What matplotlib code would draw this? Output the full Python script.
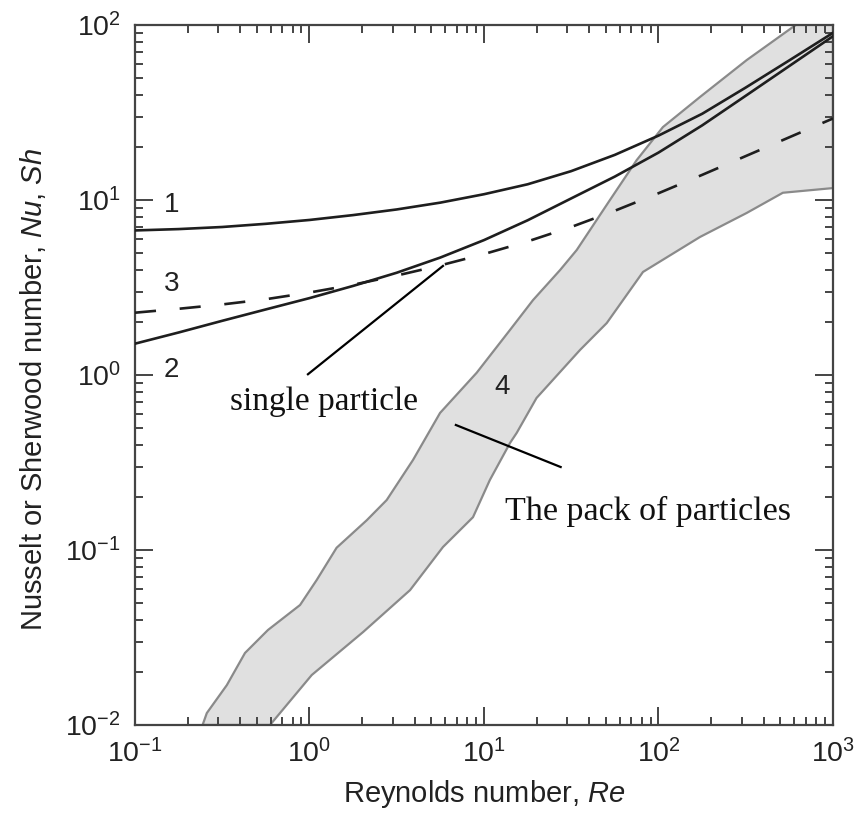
import numpy as np
import matplotlib
matplotlib.use("Agg")
import matplotlib.pyplot as plt

plt.rcParams['font.family'] = ['Liberation Sans', 'DejaVu Sans']
plt.rcParams['mathtext.fontset'] = 'custom'
plt.rcParams['mathtext.rm'] = 'Liberation Sans'
plt.rcParams['mathtext.it'] = 'Liberation Sans:italic'

# Reynolds number grid (quarter decades)
re = [0.1, 0.178, 0.316, 0.562, 1, 1.78, 3.16, 5.62, 10, 17.8, 31.6, 56.2,
      100, 178, 316, 562, 1000]

# curve 1, 2 (solid) and 3 (dashed)
nu_1 = [6.70, 6.82, 7.01, 7.31, 7.69, 8.20, 8.83, 9.66, 10.79, 12.30, 14.62,
        18.11, 23.33, 31.1, 43.9, 62.8, 90.2]
nu_2 = [1.51, 1.75, 2.04, 2.37, 2.75, 3.23, 3.84, 4.69, 5.90, 7.66, 10.21,
        13.61, 18.66, 26.7, 39.4, 58.3, 86.3]
nu_3 = [2.27, 2.39, 2.53, 2.71, 2.96, 3.28, 3.70, 4.23, 4.91, 5.80, 7.01,
        8.68, 10.93, 13.92, 17.82, 22.83, 29.24]

# band 4 (pack of particles): upper/left edge and lower/right edge
band_up_re = [0.244, 0.258, 0.336, 0.427, 0.578, 0.883, 1.10, 1.43, 2.13, 2.77,
              3.92, 5.6, 9.08, 14.1, 19.1, 27.3, 34.0, 52.7, 75, 106, 173, 320,
              590, 1000]
band_up_nu = [0.01, 0.0117, 0.0169, 0.0258, 0.0349, 0.0485, 0.0674, 0.103, 0.148,
              0.193, 0.327, 0.607, 1.03, 1.81, 2.68, 3.98, 5.18, 10.0, 16.9, 26.1,
              38.8, 63, 97.5, 140]
band_lo_re = [0.594, 1.03, 2.03, 3.77, 5.82, 8.65, 10.8, 14.1, 15.4, 20.0, 35.5,
              50.5, 81.5, 173, 320, 516, 1000]
band_lo_nu = [0.01, 0.0193, 0.034, 0.059, 0.104, 0.154, 0.251, 0.409, 0.467, 0.739,
              1.39, 1.98, 3.88, 6.15, 8.43, 11.0, 11.7]

fig = plt.figure(figsize=(8.57, 8.17), dpi=100)
ax = fig.add_axes([0.1575, 0.1126, 0.8145, 0.8568])

poly_x = band_up_re + band_lo_re[::-1]
poly_y = band_up_nu + band_lo_nu[::-1]
ax.fill(poly_x, poly_y, facecolor='#e0e0e0', edgecolor='#8a8a8a', linewidth=1.6, zorder=1)

ax.plot(re, nu_1, color='#1e1e1e', lw=1.9, zorder=3)
ax.plot(re, nu_2, color='#1e1e1e', lw=1.9, zorder=3)
ax.plot(re, nu_3, color='#1e1e1e', lw=1.9, dashes=(8, 9), zorder=3)

ax.set_xscale('log')
ax.set_yscale('log')
ax.set_xlim(0.1, 1000)
ax.set_ylim(0.01, 100)

# curve numbers
ax.text(0.162, 9.36, '1', fontsize=20, ha='center', va='center', color='#222')
ax.text(0.162, 1.07, '2', fontsize=20, ha='center', va='center', color='#222')
ax.text(0.162, 3.31, '3', fontsize=20, ha='center', va='center', color='#222')
ax.text(12.7, 0.853, '4', fontsize=20, ha='center', va='center', color='#222')

# annotation pointers
ax.plot([0.98, 5.82], [1.01, 4.2], color='black', lw=1.6, zorder=4)
ax.plot([6.9, 27.5], [0.518, 0.298], color='black', lw=1.6, zorder=4)
ax.text(0.35, 0.63, 'single particle', family='Liberation Serif', fontsize=24,
        ha='left', va='baseline', color='#111')
ax.text(13.2, 0.148, 'The pack of particles', family='Liberation Serif', fontsize=24.5,
        ha='left', va='baseline', color='#111')

ax.set_xlabel('Reynolds number, $\\it{Re}$', fontsize=21, color='#222', labelpad=7)
ax.set_ylabel('Nusselt or Sherwood number, $\\it{Nu}$, $\\it{Sh}$', fontsize=21,
              color='#222')
ax.yaxis.set_label_coords(-0.125, 0.48)

for s in ax.spines.values():
    s.set_linewidth(1.6)
    s.set_color('#444')
ax.tick_params(which='both', direction='in', top=True, right=True, color='#444',
               width=1.4, labelsize=20.5, labelcolor='#222')
ax.tick_params(which='major', length=13, pad=10)
ax.tick_params(which='minor', length=6)

fig.savefig('out.png', dpi=100)
